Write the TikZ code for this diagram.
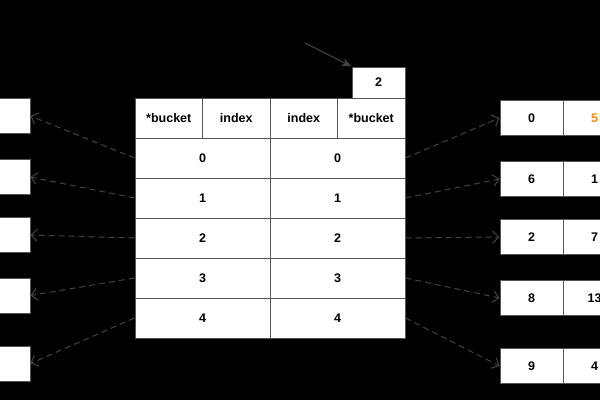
\documentclass[tikz,border=0pt]{standalone}
\usepackage{fontspec}
\setmainfont{Liberation Sans}
\usepackage{xcolor}
\usetikzlibrary{arrows.meta, positioning, calc}

\definecolor{cellline}{RGB}{85,85,85}
\definecolor{linkgray}{RGB}{68,68,68}
\definecolor{hotorange}{RGB}{255,140,0}

\begin{document}
\begin{tikzpicture}[x=1pt, y=-1pt, every node/.style={font=\fontsize{12.5}{14}\selectfont\bfseries}]
		\tikzstyle{cell}=[draw=cellline, line width=1pt, fill=white, text=black, inner sep=0pt]
		\tikzstyle{headcell}=[cell, minimum height=40pt, minimum width=67.5pt]
		\tikzstyle{rowcell}=[cell, minimum height=40pt, minimum width=135pt]
		\tikzstyle{slot}=[cell, minimum height=35pt, minimum width=63pt]
		\tikzstyle{link}=[draw=linkgray, line width=1pt, dash pattern=on 6pt off 4pt, -{Straight Barb[length=6pt, width=12pt]}]
		
		\fill[black] (0,0) rectangle (600,400);
		\useasboundingbox (0,0) rectangle (600,400);
		\clip (0,0) rectangle (600,400);
		
		% header of the table
		\node (hbl) at (168.75,118) [headcell] {*bucket};
		\node (hil) at (236.25,118) [headcell] {index};
		\node (hir) at (303.75,118) [headcell] {index};
		\node (hbr) at (371.25,118) [headcell] {*bucket};
		
		\node (top) at (378.5,82.5) [cell, minimum height=31pt, minimum width=53pt] {2};
		\coordinate (ptr) at (305,43);
		\draw [-{Stealth[length=10pt, width=8pt]}, draw=linkgray, fill=linkgray, line width=1pt] (ptr) -- (top.north west);
		
		% rows of the table
		\foreach \i in {0,...,4} {
			\node (rl\i) at (202.5,158+40*\i) [rowcell] {\i};
			\node (rr\i) at (337.5,158+40*\i) [rowcell] {\i};
		}
		
		% slots on the left
		\foreach \y [count=\k from 0] in {116,177,235,295.5,363.5} {
			\node (ls\k) at (-1.5,\y) [slot] {};
			\draw [link] (rl\k.west) -- (ls\k.east);
		}
		
		% slots on the right
		\foreach \y/\a/\b [count=\k from 0] in {118/0/{\color{hotorange}5},179/6/1,237/2/7,298/8/13,366/9/4} {
			\node (ra\k) at (531.5,\y) [slot] {\a};
			\node (rb\k) at (594.5,\y) [slot] {\b};
			\draw [link] (rr\k.east) -- (ra\k.west);
		}
\end{tikzpicture}
\end{document}
